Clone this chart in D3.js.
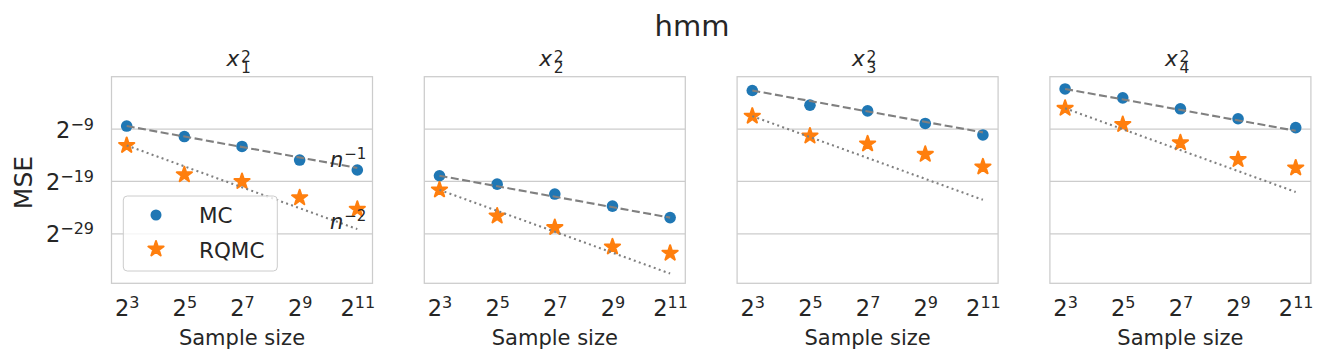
<!DOCTYPE html>
<html>
<head>
<meta charset="utf-8">
<script src="https://cdn.jsdelivr.net/npm/d3@7"></script>
<style>
  body { margin: 0; background: #fff; }
  text { font-family: "DejaVu Sans", sans-serif; fill: #262626; }
</style>
</head>
<body>
<div id="chart"></div>
<script>
// data (log2 of the MSE)
const sampleSizes = [8, 32, 128, 512, 2048];
const panelIdx = [1, 2, 3, 4];
const mcLog2 = [
  [-8.5, -10.5, -12.4, -15.0, -16.9],
  [-18.0, -19.6, -21.5, -23.8, -26.0],
  [-1.7, -4.5, -5.6, -8.0, -10.2],
  [-1.4, -3.1, -5.2, -7.1, -8.8]
];
const rqmcLog2 = [
  [-12.2, -17.8, -19.1, -22.2, -24.4],
  [-20.7, -25.7, -27.9, -31.6, -32.8],
  [-6.6, -10.4, -11.9, -13.9, -16.3],
  [-5.1, -8.2, -11.7, -14.9, -16.5]
];
const rates = [-1, -2];
const xTickExp = [3, 5, 7, 9, 11];
const yTickExp = [-9, -19, -29];

const svgWidth = 1328, svgHeight = 362;
const left0 = 111.5, step = 312.8, topY = 76.7;
const width = 261, height = 206.6;
const blue = "#1f77b4", orange = "#ff7f0e";

const svg = d3.select("#chart").append("svg")
  .attr("width", svgWidth).attr("height", svgHeight);

const x = d3.scaleLog().base(2).domain([2 ** 2.473, 2 ** 11.527]).range([0, width]);
const y = d3.scaleLog().base(2).domain([2 ** -38.56, 2 ** 0.94]).range([height, 0]);

const star = d3.symbol().type(d3.symbolStar).size(72);

// write "2^k" with a raised exponent into a text element
function powLabel(sel, exp, big, small, rise) {
  sel.text(null);
  sel.append("tspan").attr("font-size", big).text("2");
  sel.append("tspan").attr("font-size", small).attr("dy", -rise)
    .text(String(exp).replace("-", "\u2212"));
}

svg.append("text")
  .attr("x", 692).attr("y", 36)
  .attr("text-anchor", "middle")
  .attr("font-size", 29)
  .text("hmm");

panelIdx.forEach((k, p) => {
  const g = svg.append("g")
    .attr("transform", `translate(${left0 + p * step}, ${topY})`);

  // horizontal grid
  g.append("g")
    .call(d3.axisLeft(y).tickValues(yTickExp.map(e => 2 ** e)).tickSize(-width).tickFormat(""))
    .call(a => a.select(".domain").remove())
    .selectAll("line").attr("stroke", "#cccccc").attr("stroke-width", 1.25);

  g.append("rect")
    .attr("width", width).attr("height", height)
    .attr("fill", "none").attr("stroke", "#cccccc").attr("stroke-width", 1.25);

  // x axis
  const xa = g.append("g")
    .attr("transform", `translate(0, ${height})`)
    .call(d3.axisBottom(x).tickValues(xTickExp.map(e => 2 ** e)).tickSize(0).tickPadding(0));
  xa.select(".domain").remove();
  xa.selectAll("text")
    .attr("y", 33).attr("dy", null)
    .each(function (d) { powLabel(d3.select(this), Math.round(Math.log2(d)), 22.5, 16, 8); });

  // y axis labels only on the first panel
  if (p === 0) {
    const ya = g.append("g")
      .call(d3.axisLeft(y).tickValues(yTickExp.map(e => 2 ** e)).tickSize(0).tickPadding(17.5));
    ya.select(".domain").remove();
    ya.selectAll("text")
      .attr("dy", 8.5)
      .each(function (d) { powLabel(d3.select(this), Math.round(Math.log2(d)), 22.5, 16, 8); });
  }

  // markers
  g.selectAll(".mc").data(mcLog2[p]).enter().append("circle")
    .attr("cx", (d, i) => x(sampleSizes[i]))
    .attr("cy", d => y(2 ** d))
    .attr("r", 5.8)
    .attr("fill", blue);

  g.selectAll(".rqmc").data(rqmcLog2[p]).enter().append("path")
    .attr("d", star)
    .attr("transform", (d, i) => `translate(${x(sampleSizes[i])}, ${y(2 ** d)})`)
    .attr("fill", orange)
    .attr("stroke", orange).attr("stroke-width", 2).attr("stroke-linejoin", "round");

  // rate lines anchored at the first point
  const n0 = sampleSizes[0], n1 = sampleSizes[sampleSizes.length - 1];
  [[mcLog2[p][0], rates[0], "8,3.5"], [rqmcLog2[p][0], rates[1], "2,3.3"]].forEach(([e0, r, dash]) => {
    const v0 = 2 ** e0;
    g.append("line")
      .attr("x1", x(n0)).attr("y1", y(v0))
      .attr("x2", x(n1)).attr("y2", y(v0 * (n1 / n0) ** r))
      .attr("stroke", "#808080").attr("stroke-width", 2.1)
      .attr("stroke-dasharray", dash);
  });

  // title x_k^2 (one text, stacked sub/superscript)
  const cx = width / 2 - 1.5;
  const tt = g.append("text");
  tt.append("tspan").attr("x", cx - 14).attr("y", 66 - topY)
    .attr("font-size", 21.5).attr("font-style", "italic").text("x");
  tt.append("tspan").attr("x", cx + 0.5).attr("y", 61.5 - topY)
    .attr("font-size", 15.5).text("2");
  tt.append("tspan").attr("x", cx + 0.5).attr("y", 73.3 - topY)
    .attr("font-size", 15.5).text(k);

  g.append("text")
    .attr("x", width / 2).attr("y", 345 - topY)
    .attr("text-anchor", "middle").attr("font-size", 21)
    .text("Sample size");

  if (p === 0) {
    [[-16.3, "\u22121"], [-28.2, "\u22122"]].forEach(([e, s]) => {
      const t = g.append("text")
        .attr("x", x(2 ** 10.05)).attr("y", y(2 ** e));
      t.append("tspan").attr("font-size", 21).attr("font-style", "italic").text("n");
      t.append("tspan").attr("font-size", 15).attr("dy", -8.2).attr("dx", 1).text(s);
    });

    // legend
    const lg = g.append("g").attr("transform", `translate(${123.3 - left0}, ${196 - topY})`);
    lg.append("rect")
      .attr("width", 154).attr("height", 75).attr("rx", 4)
      .attr("fill", "white").attr("fill-opacity", 0.8)
      .attr("stroke", "#cccccc").attr("stroke-width", 1);
    lg.append("circle").attr("cx", 32.7).attr("cy", 19).attr("r", 5.5).attr("fill", blue);
    lg.append("path").attr("d", star).attr("transform", "translate(32.7, 53)")
      .attr("fill", orange).attr("stroke", orange).attr("stroke-width", 2).attr("stroke-linejoin", "round");
    lg.append("text").attr("x", 75.7).attr("y", 27.3).attr("font-size", 21.5).text("MC");
    lg.append("text").attr("x", 75.7).attr("y", 61.7).attr("font-size", 21.5).text("RQMC");
  }
});

svg.append("text")
  .attr("transform", "translate(31.5, 182.5) rotate(-90)")
  .attr("text-anchor", "middle").attr("font-size", 25)
  .text("MSE");
</script>
</body>
</html>
